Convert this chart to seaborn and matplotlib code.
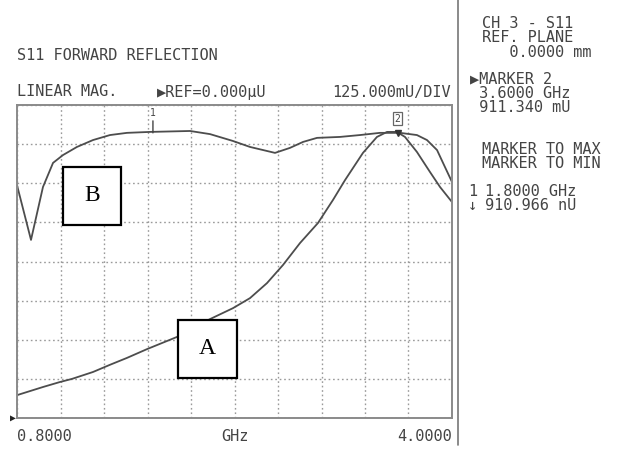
import numpy as np
import pandas as pd
import matplotlib
matplotlib.use("Agg")
import matplotlib.pyplot as plt
from matplotlib.patches import Rectangle
from matplotlib.ticker import FixedLocator
import seaborn as sns

# ---- data (GHz, mU) ----
freq_b = [0.800, 0.903, 0.991, 1.065, 1.138, 1.241, 1.359, 1.484, 1.609, 1.778,
          2.073, 2.220, 2.389, 2.514, 2.698, 2.808, 2.904, 3.007, 3.176, 3.323,
          3.470, 3.618, 3.742, 3.816, 3.890, 3.934, 4.000]
mag_b = [744, 569, 738, 815, 840, 866, 888, 904, 911, 914,
         917, 907, 885, 866, 847, 863, 882, 895, 898, 904,
         911, 911, 904, 888, 856, 815, 754]

freq_a = [0.800, 0.991, 1.116, 1.205, 1.359, 1.484, 1.609, 1.756, 1.977, 2.220,
          2.389, 2.514, 2.639, 2.757, 2.882, 3.014, 3.125, 3.213, 3.345, 3.448,
          3.522, 3.595, 3.654, 3.742, 3.838, 3.912, 4.000]
mag_a = [73, 99, 115, 125, 147, 170, 192, 220, 259, 316,
         351, 383, 431, 489, 559, 623, 697, 760, 847, 898,
         914, 914, 898, 850, 786, 738, 690]

marker_freqs = [1.8, 3.6]
marker_vals = [910.966, 911.340]

x_tick_vals = [0.8, 2.4, 4.0]
x_tick_labels = ["0.8000", "GHz", "4.0000"]

df_a = pd.DataFrame({"freq": freq_a, "mag": mag_a})
df_b = pd.DataFrame({"freq": freq_b, "mag": mag_b})

sns.set_theme(style="white")
plt.rcParams["font.family"] = ["DejaVu Sans Mono", "DejaVu Sans"]

W, H = 623, 450
FS = 11
fig = plt.figure(figsize=(W / 100, H / 100), dpi=100)
fig.patch.set_facecolor("white")
ax = fig.add_axes([17 / W, 1 - 418 / H, (452 - 17) / W, (418 - 105) / H])

curve_col = "#4d4d4d"
sns.lineplot(data=df_b, x="freq", y="mag", ax=ax, color=curve_col, lw=1.3, sort=False)
sns.lineplot(data=df_a, x="freq", y="mag", ax=ax, color=curve_col, lw=1.3, sort=False)

ax.set_xlim(0.8, 4.0)
ax.set_ylim(0, 1000)
ax.set_xlabel("")
ax.set_ylabel("")

# grid: 10 x-divisions, 8 y-divisions
ax.xaxis.set_minor_locator(FixedLocator(np.linspace(0.8, 4.0, 11)))
ax.yaxis.set_minor_locator(FixedLocator(np.linspace(0, 1000, 9)))
ax.xaxis.remove_overlapping_locs = False
ax.grid(False, which="major")
ax.grid(True, which="minor", color="#9a9a9a", lw=1.0, linestyle=(0, (1.2, 2)))
ax.set_xticks(x_tick_vals)
ax.set_xticklabels(x_tick_labels, fontsize=FS, color="#444")
lbls = ax.get_xticklabels()
lbls[0].set_ha("left")
lbls[-1].set_ha("right")
ax.set_yticks([])
ax.tick_params(axis="x", which="both", length=0, pad=8)
ax.tick_params(axis="y", which="both", length=0)
for s in ax.spines.values():
    s.set_color("#8a8a8a")
    s.set_linewidth(1.4)

# markers
ax.annotate("1", xy=(marker_freqs[0], marker_vals[0]), xytext=(0, 11),
            textcoords="offset points", ha="center", va="bottom", fontsize=7,
            color="#444", arrowprops=dict(arrowstyle="-", color="#444", lw=1.0,
                                          shrinkA=0, shrinkB=0))
ax.annotate("2", xy=(marker_freqs[1], marker_vals[1]), xytext=(0, 10),
            textcoords="offset points", ha="center", va="center", fontsize=7,
            color="#444",
            bbox=dict(boxstyle="square,pad=0.15", fc="white", ec="#666", lw=0.9))
ax.plot([marker_freqs[1]], [marker_vals[1]], marker="v", ms=4, color="#333")

# reference-level arrow at left
ax.annotate("▶", xy=(0, 0), xycoords="axes fraction", xytext=(-1, 0),
            textcoords="offset points", ha="right", va="center", fontsize=7,
            color="#222", annotation_clip=False)


def ftext(x, y, s, **kw):
    kw.setdefault("fontsize", FS)
    kw.setdefault("color", "#444")
    kw.setdefault("va", "center")
    fig.text(x / W, 1 - y / H, s, **kw)


ftext(17, 56, "S11 FORWARD REFLECTION")
ftext(17, 92, "LINEAR MAG.")
ftext(157, 92, "▶REF=0.000μU")
ftext(451, 92, "125.000mU/DIV", ha="right")

ftext(482, 38, "CH 3 - S11\nREF. PLANE\n   0.0000 mm", linespacing=0.93)
ftext(470, 93, "▶MARKER 2\n 3.6000 GHz\n 911.340 mU", linespacing=0.93)
ftext(482, 156.5, "MARKER TO MAX\nMARKER TO MIN", linespacing=0.88)
ftext(468, 198.5, "1\n↓", linespacing=0.88)
ftext(485, 198.5, "1.8000 GHz\n910.966 nU", linespacing=0.88)

# separator line
fig.add_artist(plt.Line2D([458 / W, 458 / W], [1 - 445 / H, 1.0],
                          transform=fig.transFigure, color="#777", lw=1.2))

# label boxes
for (x0, y0, x1, y1, lab) in [(63, 167, 121, 225, "B"), (178, 320, 237, 378, "A")]:
    fig.add_artist(Rectangle((x0 / W, 1 - y1 / H), (x1 - x0) / W, (y1 - y0) / H,
                             transform=fig.transFigure, fc="white", ec="black",
                             lw=1.6, zorder=5))
    fig.text((x0 + x1) / 2 / W, 1 - (y0 + y1) / 2 / H, lab, ha="center",
             va="center", fontsize=17, family="Liberation Serif", color="black",
             zorder=6)

fig.savefig("out.png", dpi=100, facecolor="white")
